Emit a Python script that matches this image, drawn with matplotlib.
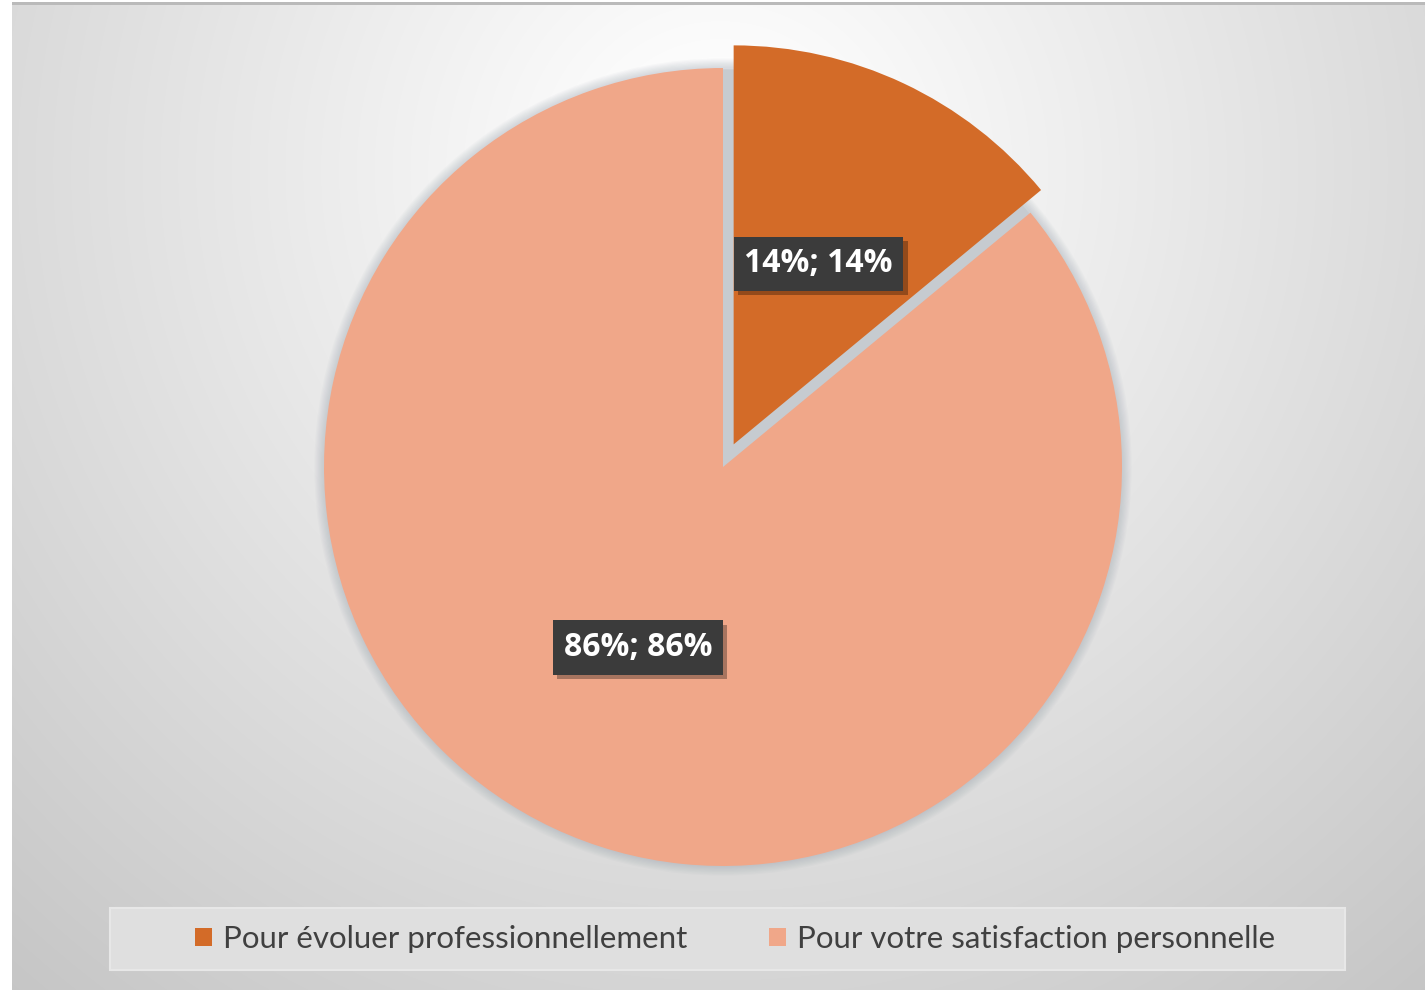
import numpy as np
import matplotlib
matplotlib.use("Agg")
import matplotlib.pyplot as plt
from matplotlib.patches import Rectangle, Circle, Wedge
import matplotlib.patheffects as pe

# ---- data ----
categories = ["Pour évoluer professionnellement", "Pour votre satisfaction personnelle"]
values = [0.14, 0.86]
colors = ["#D36B28", "#F0A789"]

W, H = 1425, 990
fig = plt.figure(figsize=(W / 100, H / 100), dpi=100, facecolor="white")

# background gradient
bg = fig.add_axes([0, 0, 1, 1])
bg.set_axis_off()
yy, xx = np.mgrid[0:H, 0:W]
d = np.hypot(xx - 720, (yy - 170) * 1.0)
v = np.clip(255 - 0.056 * np.maximum(d - 60, 0), 190, 255) / 255.0
img = np.dstack([v, v, v])
img[:, :12, :] = 1.0
img[:2, :, :] = 1.0
img[2:5, 12:, :] = 0.73
bg.imshow(img, extent=(0, W, H, 0), aspect="auto", interpolation="bilinear")
bg.set_xlim(0, W)
bg.set_ylim(H, 0)

ax = fig.add_axes([0, 0, 1, 1])
ax.set_axis_off()
ax.patch.set_alpha(0)

cx, cy, r = 723, H - 467, 399
# soft halo / shadow behind the pie
for k in range(1, 9):
    ax.add_patch(Circle((cx, cy), r + k * 1.2, color="#8a96a3", alpha=0.045, lw=0, zorder=0))
ax.add_patch(Circle((cx, cy), r - 2, color="#c6cbd0", zorder=0))

def fmt(p):
    return f"{p:.0f}%; {p:.0f}%"

wedges, texts, autotexts = ax.pie(
    values, colors=colors, startangle=90, counterclock=False,
    explode=[25, 0], radius=r, center=(cx, cy), autopct=fmt,
    pctdistance=0.5, frame=True,
    wedgeprops=dict(linewidth=0, zorder=1),
    textprops=dict(color="white", fontsize=23, fontweight="bold",
                   family="Open Sans"))
ax.set_xlim(0, W)
ax.set_ylim(0, H)
ax.set_axis_off()

for t in autotexts:
    t.set_zorder(5)
    t.set_bbox(dict(boxstyle="square,pad=0.33", fc="#3b3b3b", ec="none"))
    t.get_bbox_patch().set_path_effects([
        pe.SimplePatchShadow(offset=(3, -3), shadow_rgbFace="black", alpha=0.3),
        pe.Normal()])

# legend box
ax.add_patch(Rectangle((110, H - 970), 1235, 62, fc="#dfdfdf", ec="#e7e7e7", lw=1.5, zorder=2))
handles = [Rectangle((0, 0), 1, 1, fc=c, ec="none") for c in colors]
leg = ax.legend(handles, categories, loc="center", bbox_to_anchor=(735 / W, 1 - 939 / H),
                bbox_transform=fig.transFigure, ncol=2, frameon=False,
                handlelength=0.55, handleheight=0.55,
                handletextpad=0.35, columnspacing=2.6,
                prop=dict(family="Lato", size=22.5))
for t in leg.get_texts():
    t.set_color("#404040")
leg.set_zorder(6)

fig.savefig("out.png", dpi=100, facecolor="white")
